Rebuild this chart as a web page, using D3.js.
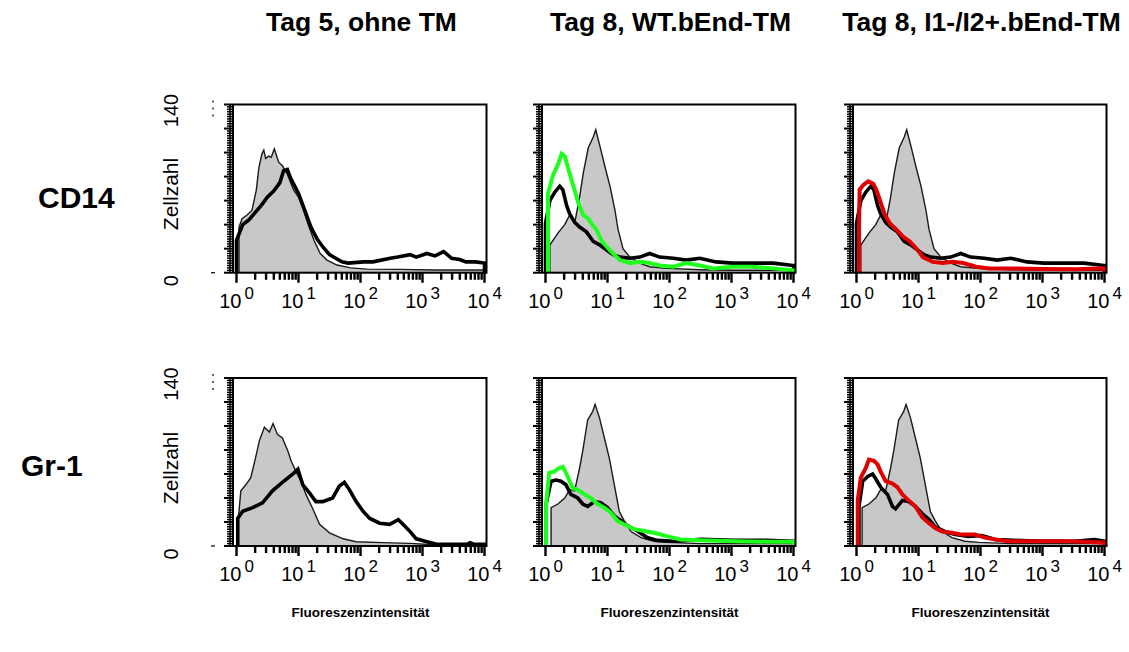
<!DOCTYPE html>
<html>
<head>
<meta charset="utf-8">
<script src="https://d3js.org/d3.v7.min.js"></script>
<style>
  body { margin: 0; background: #fff; }
  svg { display: block; font-family: Arial, "Liberation Sans", sans-serif; }
</style>
</head>
<body>
<svg id="chart" width="1129" height="652"></svg>
<script>
// column / row headings
const conditions = ["Tag 5, ohne TM", "Tag 8, WT.bEnd-TM", "Tag 8, I1-/I2+.bEnd-TM"];
const markers = ["CD14", "Gr-1"];
const xDecades = [0, 1, 2, 3, 4];          // 10^0 .. 10^4
const yLabels = ["0", "140"];
const xTitle = "Fluoreszenzintensität";
const yTitle = "Zellzahl";

// histograms: [log10 intensity, cell count]
// CD14, Tag 5
const cd14Tag5Ctrl = [[0.04,0],[0.04,38],[0.09,45],[0.17,48],[0.25,52],[0.32,69],[0.36,87],[0.41,99],[0.44,102],[0.47,95],[0.52,97],[0.56,96],[0.61,103],[0.68,92],[0.74,89],[0.82,82],[0.92,69],[1.0,63],[1.08,52],[1.17,38],[1.25,27],[1.35,16],[1.46,10.5],[1.62,6.4],[1.84,4],[2.1,3],[2.64,2.8],[3.18,2.2],[3.98,2.2],[4,0]];
const cd14Tag5 = [[0,0],[0,27],[0.1,40],[0.2,44],[0.3,50],[0.4,56],[0.5,63],[0.6,68],[0.7,75],[0.76,85],[0.82,86],[0.87,79],[1.0,66],[1.1,52],[1.2,38],[1.3,28],[1.4,21],[1.5,15],[1.6,12],[1.7,9],[1.8,8],[2.05,9],[2.2,9],[2.48,12],[2.6,13],[2.8,15],[2.9,13],[3.07,16],[3.2,14],[3.34,17.5],[3.4,15],[3.47,12],[3.6,11],[3.7,9],[3.85,9],[4,8],[4,0]];
// CD14, Tag 8 (control and black overlay shared by both Tag 8 panels)
const cd14Tag8Ctrl = [[0.07,0],[0.07,23],[0.2,33],[0.31,40],[0.39,48],[0.47,41],[0.55,63],[0.61,83],[0.69,104],[0.77,113],[0.81,119],[0.88,105],[0.96,88],[1.04,72],[1.12,52],[1.17,36],[1.25,20],[1.36,13],[1.52,8],[1.68,5],[1.95,3.6],[2.5,2.5],[3.0,2],[4,2],[4,0]];
const cd14Tag8 = [[0,0],[0,41],[0.07,60],[0.15,67],[0.23,72],[0.28,69],[0.34,56],[0.39,49],[0.47,42],[0.55,38],[0.66,34],[0.77,26],[0.88,23],[0.98,19],[1.09,15],[1.2,13],[1.36,12],[1.52,13],[1.68,16],[1.84,13],[2.06,12],[2.27,10.5],[2.49,12],[2.75,9],[3.02,8],[3.34,8],[3.67,8],[4,6],[4,0]];
const cd14WT = [[0.04,0],[0.04,66],[0.12,81],[0.2,90],[0.26,99],[0.31,97],[0.37,86],[0.45,72],[0.53,58],[0.61,48],[0.69,45],[0.74,41],[0.82,36],[0.9,27],[0.98,22],[1.09,16],[1.2,10.5],[1.36,8],[1.52,9],[1.68,8],[1.84,6],[2.06,5],[2.27,8],[2.49,6],[2.7,3.6],[3.02,5],[3.34,5],[3.67,3.6],[4,2],[4,0]];
const cd14Mut = [[0.04,0],[0.04,38],[0.05,69],[0.11,73],[0.19,76],[0.27,74],[0.32,69],[0.38,60],[0.46,48],[0.54,41],[0.64,36],[0.75,30],[0.86,26],[0.97,20],[1.07,13],[1.23,9],[1.39,8],[1.55,9],[1.72,8],[1.93,5],[2.14,3.6],[2.47,3.6],[3.0,3],[3.54,2.8],[4,3.6],[4,0]];
// Gr-1, Tag 5
const gr1Tag5Ctrl = [[0.03,0],[0.03,23],[0.07,46],[0.15,51],[0.23,57],[0.31,74],[0.37,88],[0.45,99],[0.53,95],[0.59,102],[0.66,93],[0.74,90],[0.83,79],[0.88,71],[0.96,62],[1.04,54],[1.12,43],[1.23,31],[1.34,18],[1.5,11],[1.72,6],[1.93,3.6],[2.36,2.8],[2.8,2.2],[3.17,1],[4,0.5],[4,0]];
const gr1Tag5 = [[0.02,0],[0.02,23],[0.1,29],[0.26,32],[0.42,36],[0.58,46],[0.74,53],[0.91,60],[0.99,64],[1.07,51],[1.18,44],[1.28,37],[1.39,37],[1.55,40],[1.66,50],[1.74,53],[1.82,47],[1.93,37],[2.04,29],[2.15,23],[2.31,19],[2.47,18],[2.61,22],[2.69,18],[2.8,12],[2.9,6],[3.07,3.6],[3.23,1.4],[3.71,1.4],[3.77,2.8],[3.83,1.4],[4,1.4],[4,0]];
// Gr-1, Tag 8
const gr1Tag8Ctrl = [[0.09,0],[0.09,32],[0.2,35],[0.31,40],[0.39,47],[0.47,46],[0.55,65],[0.6,79],[0.68,105],[0.76,112],[0.8,118],[0.87,107],[0.95,90],[1.03,73],[1.11,51],[1.19,29],[1.27,21],[1.38,12],[1.54,7],[1.75,4],[1.97,3],[2.5,2],[4,2],[4,0]];
const gr1Tag8a = [[0.01,0],[0.01,35],[0.09,54],[0.17,55],[0.25,54],[0.33,51],[0.41,43],[0.52,40],[0.6,35],[0.68,33],[0.79,37],[0.89,36],[1.0,32],[1.11,25],[1.22,21],[1.32,17],[1.48,12.5],[1.64,7],[1.8,4.7],[2.07,4],[2.5,5.5],[3.04,4.7],[3.57,4.7],[4,4],[4,0]];
const gr1WT = [[0.01,0],[0.01,35],[0.06,61],[0.14,62],[0.22,65],[0.28,66],[0.33,61],[0.39,54],[0.44,48],[0.52,47],[0.63,43],[0.73,40],[0.84,35],[0.95,32],[1.05,28],[1.16,21],[1.27,18],[1.43,14],[1.59,12.5],[1.75,11],[1.97,8],[2.18,5.5],[2.5,4.7],[3.04,4],[3.57,3.6],[4,3.6],[4,0]];
const gr1Tag8b = [[0.04,0],[0.04,33],[0.1,54],[0.18,58],[0.26,60],[0.31,56],[0.39,49],[0.5,43],[0.58,33],[0.63,31],[0.74,38],[0.84,37],[0.95,33],[1.06,27],[1.17,22],[1.27,16],[1.43,12],[1.59,9.5],[1.81,8],[2.02,8.7],[2.24,5.4],[2.45,4.9],[2.98,4],[3.52,4],[3.84,5.4],[4,4],[4,0]];
const gr1Mut = [[0.02,0],[0.02,38],[0.07,57],[0.15,65],[0.2,72],[0.28,71],[0.34,68],[0.39,62],[0.47,54],[0.58,52],[0.66,49],[0.74,43],[0.84,38],[0.95,33],[1.06,24],[1.17,19],[1.27,15],[1.38,12],[1.54,11],[1.7,9.5],[1.91,9.5],[2.07,7],[2.24,5.4],[2.45,4],[2.98,4],[3.41,4],[3.79,3.3],[4,2.7],[4,0]];

// which series goes in which panel
const panels = [
  { row: 0, col: 0, ctrl: cd14Tag5Ctrl, black: cd14Tag5, color: null },
  { row: 0, col: 1, ctrl: cd14Tag8Ctrl, black: cd14Tag8, color: cd14WT, stroke: "#1eff1e" },
  { row: 0, col: 2, ctrl: cd14Tag8Ctrl, black: cd14Tag8, color: cd14Mut, stroke: "#e00000" },
  { row: 1, col: 0, ctrl: gr1Tag5Ctrl, black: gr1Tag5, color: null },
  { row: 1, col: 1, ctrl: gr1Tag8Ctrl, black: gr1Tag8a, color: gr1WT, stroke: "#1eff1e" },
  { row: 1, col: 2, ctrl: gr1Tag8Ctrl, black: gr1Tag8b, color: gr1Mut, stroke: "#e00000" }
];

// layout
const colX0 = [236.5, 545.5, 856.5];   // pixel of 10^0
const plotW = 248;
const rowTop = [104.5, 378];
const rowBottom = [272.7, 546];

const svg = d3.select("#chart");

panels.forEach(p => {
  const x0 = colX0[p.col];
  const top = rowTop[p.row], bottom = rowBottom[p.row];
  const x = d3.scaleLog().domain([1, 1e4]).range([x0, x0 + plotW]);
  const y = d3.scaleLinear().domain([0, 140]).range([bottom, top]);
  const g = svg.append("g");

  const line = d3.line().x(d => x(Math.pow(10, d[0]))).y(d => y(d[1]));
  const area = d3.area().x(d => x(Math.pow(10, d[0]))).y0(y(0)).y1(d => y(d[1]));

  // control histogram: grey fill with thin outline
  g.append("path").datum(p.ctrl).attr("d", area).attr("fill", "#c8c8c8");
  g.append("path").datum(p.ctrl).attr("d", line)
    .attr("fill", "none").attr("stroke", "#1a1a1a").attr("stroke-width", 1.4);
  g.append("path").datum(p.black).attr("d", line)
    .attr("fill", "none").attr("stroke", "#000").attr("stroke-width", 3.6);
  if (p.color) {
    g.append("path").datum(p.color).attr("d", line)
      .attr("fill", "none").attr("stroke", p.stroke).attr("stroke-width", 4);
  }

  // frame
  g.append("rect")
    .attr("x", x0 - 3.5).attr("y", top)
    .attr("width", plotW + 5.5).attr("height", bottom - top)
    .attr("fill", "none").attr("stroke", "#000").attr("stroke-width", 2);

  // x axis: minor + major ticks below the frame (one path each)
  const xMinor = x.ticks().filter(v => Math.abs(Math.log10(v) % 1) > 1e-6);
  const xMajor = xDecades.map(k => Math.pow(10, k));
  const tickPath = (vals, len) => vals.map(v => `M${x(v)},${bottom}V${bottom + len}`).join("");
  g.append("path").attr("d", tickPath(xMinor, 7))
    .attr("fill", "none").attr("stroke", "#000").attr("stroke-width", 2.4);
  g.append("path").attr("d", tickPath(xMajor, 10))
    .attr("fill", "none").attr("stroke", "#000").attr("stroke-width", 2.4);
  const lbl = g.selectAll("text.xlab").data(xMajor).enter().append("text")
    .attr("class", "xlab")
    .attr("x", d => x(d)).attr("y", bottom + 35.3)
    .attr("font-size", 20).attr("text-anchor", "middle");
  lbl.append("tspan").text("10");
  lbl.append("tspan").attr("dx", 3).attr("dy", -9).attr("font-size", 17)
    .text(d => Math.round(Math.log10(d)));

  // y axis: comb of ticks on the left side
  const yMinor = d3.range(0, 141, 2).filter(v => v % 20 !== 0);
  const yMajor = d3.range(0, 141, 20);
  const xl = x0 - 4.5;
  g.selectAll("line.yminor").data(yMinor).enter().append("line")
    .attr("class", "yminor")
    .attr("x1", xl).attr("x2", xl - 5)
    .attr("y1", d => y(d)).attr("y2", d => y(d))
    .attr("stroke", "#000").attr("stroke-width", 1.5);
  g.selectAll("line.ymajor").data(yMajor).enter().append("line")
    .attr("class", "ymajor")
    .attr("x1", xl).attr("x2", xl - 8)
    .attr("y1", d => y(d)).attr("y2", d => y(d))
    .attr("stroke", "#000").attr("stroke-width", 2);
  g.append("line")
    .attr("x1", xl - 2).attr("x2", xl - 2)
    .attr("y1", y(0)).attr("y2", y(140))
    .attr("stroke", "#000").attr("stroke-width", 1.5);
});

// column titles
svg.selectAll("text.title").data(conditions).enter().append("text")
  .attr("class", "title")
  .attr("x", (d, i) => colX0[i] + plotW / 2 + 1)
  .attr("y", 31)
  .attr("text-anchor", "middle").attr("font-size", 26.5).attr("font-weight", "bold")
  .text(d => d);

// row labels
const rowLabelX = [38, 21];
const rowLabelY = [208, 476];
svg.selectAll("text.marker").data(markers).enter().append("text")
  .attr("class", "marker")
  .attr("x", (d, i) => rowLabelX[i]).attr("y", (d, i) => rowLabelY[i])
  .attr("font-size", 30).attr("font-weight", "bold")
  .text(d => d);

// y titles + 0 / 140 on the left column
const yMid = [194, 468];
rowTop.forEach((top, r) => {
  const bottom = rowBottom[r];
  const y = d3.scaleLinear().domain([0, 140]).range([bottom, top]);
  svg.append("text")
    .attr("transform", `translate(178,${yMid[r]}) rotate(-90)`)
    .attr("text-anchor", "middle").attr("font-size", 21).text(yTitle);
  svg.append("text")
    .attr("transform", `translate(178,${y(0) + 8}) rotate(-90)`)
    .attr("text-anchor", "middle").attr("font-size", 20).text(yLabels[0]);
  svg.append("text")
    .attr("transform", `translate(178,${y(140) + 6}) rotate(-90)`)
    .attr("text-anchor", "middle").attr("font-size", 20).text(yLabels[1]);
  // faint remnant ticks of an outer scale
  svg.append("line").attr("x1", 213).attr("x2", 213)
    .attr("y1", y(140) - 4).attr("y2", y(140) + 14)
    .attr("stroke", "#000").attr("stroke-width", 1.2).attr("stroke-dasharray", "2,5");
  svg.append("line").attr("x1", 211).attr("x2", 215)
    .attr("y1", y(0)).attr("y2", y(0))
    .attr("stroke", "#000").attr("stroke-width", 1.2);
});

// x titles
svg.selectAll("text.xtitle").data(colX0).enter().append("text")
  .attr("class", "xtitle")
  .attr("x", d => d + plotW / 2)
  .attr("y", 617)
  .attr("text-anchor", "middle").attr("font-size", 13.5).attr("font-weight", "bold")
  .text(xTitle);
</script>
</body>
</html>
